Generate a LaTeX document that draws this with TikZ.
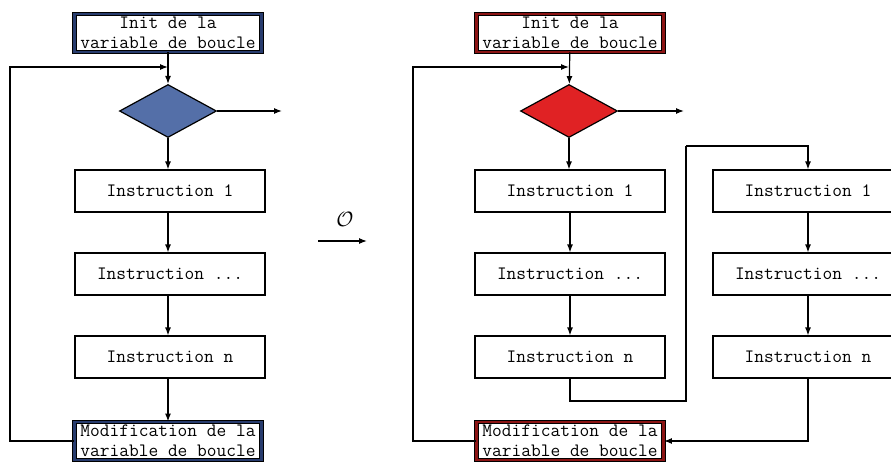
\documentclass[tikz,border=0pt]{standalone}
\usetikzlibrary{shapes.geometric,arrows.meta}
\definecolor{dblue}{RGB}{84,111,168}
\definecolor{dred}{RGB}{224,34,36}
\definecolor{fblue}{RGB}{40,60,110}
\definecolor{fred}{RGB}{140,20,20}
\tikzset{
  every node/.style={font=\fontsize{18.9}{20}\selectfont\ttfamily},
  instr/.style={draw, line width=1.2pt, fill=white, minimum width=190pt, minimum height=42pt, inner sep=0pt},
  framed/.style={draw=black, line width=0.9pt, double=#1, double distance=2.6pt, fill=white, minimum width=187pt, minimum height=38pt, inner sep=0pt, align=center},
  cond/.style={diamond, draw, line width=1.2pt, fill=#1, minimum width=97pt, minimum height=53pt, inner sep=0pt, aspect=1.83},
  conn/.style={line width=1.2pt},
  arr/.style={conn, -{Latex[length=8pt,width=6pt]}}
}
\begin{document}
\begin{tikzpicture}[x=1pt,y=-1pt]
\useasboundingbox (0,0) rectangle (891,461);
\clip (0,0) rectangle (891,461);
% left chart
\node[framed=fblue] (li) at (168,33) {Init de la\\variable de boucle};
\node[cond=dblue] (ld) at (168,111) {};
\node[instr] (l1) at (170,191) {Instruction 1};
\node[instr] (l2) at (170,274) {Instruction ...};
\node[instr] (l3) at (170,357) {Instruction n};
\node[framed=fblue] (lm) at (168,441) {Modification de la\\variable de boucle};
\coordinate (lfb) at (10,67);
\coordinate (lout) at (282,111);
\draw[arr] (li) -- (ld);
\draw[arr] (ld.east) -- (lout);
\draw[arr] (ld) -- (ld |- l1.north);
\draw[arr] (l1.south -| ld) -- (l2.north -| ld);
\draw[arr] (l2.south -| ld) -- (l3.north -| ld);
\draw[arr] (l3.south -| ld) -- (lm);
\draw[arr] (lm.west) -| (lfb) -- (lfb -| ld);
% operator
\node[font=\fontsize{20}{22}\selectfont] (op) at (345,219) {$\mathcal{O}$};
\coordinate (opa) at (318,241);
\coordinate (opb) at (367,241);
\draw[arr] (opa) -- (opb);
% right chart
\node[framed=fred] (ri) at (570,33) {Init de la\\variable de boucle};
\node[cond=dred] (rd) at (569,111) {};
\node[instr] (r1) at (570,191) {Instruction 1};
\node[instr] (r2) at (570,274) {Instruction ...};
\node[instr] (r3) at (570,357) {Instruction n};
\node[framed=fred] (rm) at (570,441) {Modification de la\\variable de boucle};
\node[instr] (s1) at (808,191) {Instruction 1};
\node[instr] (s2) at (808,274) {Instruction ...};
\node[instr] (s3) at (808,357) {Instruction n};
\coordinate (rfb) at (413,67);
\coordinate (rout) at (684,111);
\coordinate (rj1) at (686,401);
\coordinate (rj2) at (686,146);
\draw[arr] (ri) -- (rd);
\draw[arr] (rd.east) -- (rout);
\draw[arr] (rd) -- (rd |- r1.north);
\draw[arr] (r1) -- (r2);
\draw[arr] (r2) -- (r3);
\draw[conn] (r3.south) |- (rj1) -- (rj2);
\draw[arr] (rj2) -| (s1.north);
\draw[arr] (s1) -- (s2);
\draw[arr] (s2) -- (s3);
\draw[arr] (s3.south) |- (rm.east);
\draw[arr] (rm.west) -| (rfb) -- (rfb -| rd);
\end{tikzpicture}
\end{document}
